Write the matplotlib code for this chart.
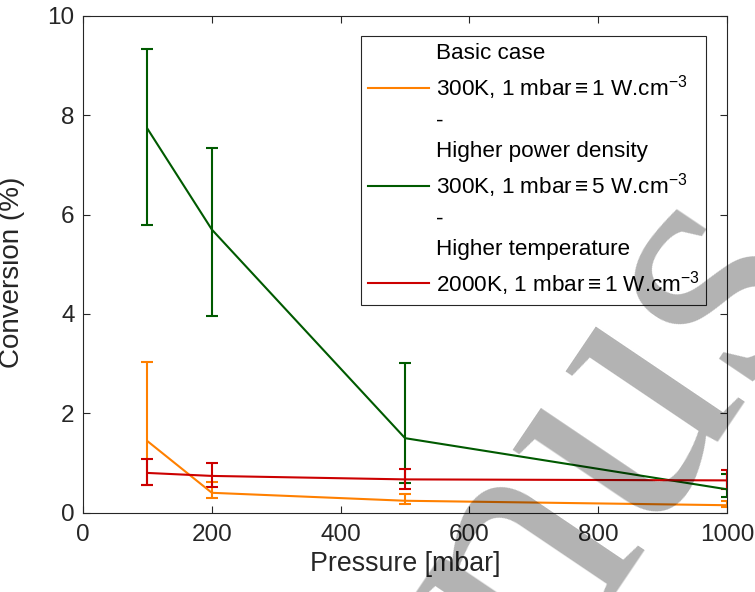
import matplotlib
matplotlib.use('Agg')
import matplotlib.pyplot as plt
from matplotlib.lines import Line2D

# pressure points (mbar)
pressure = [100, 200, 500, 1000]

# basic case 300K, 1 W/cm3
basic = [1.44, 0.40, 0.24, 0.15]
basic_lo = [0.56, 0.29, 0.17, 0.11]
basic_hi = [3.03, 0.62, 0.38, 0.24]

# higher power density 5 W/cm3
power = [7.73, 5.70, 1.50, 0.47]
power_lo = [5.80, 3.96, 0.60, 0.31]
power_hi = [9.33, 7.34, 3.01, 0.77]

# higher temperature 2000K
temp = [0.80, 0.74, 0.67, 0.65]
temp_lo = [0.56, 0.51, 0.48, 0.47]
temp_hi = [1.09, 1.01, 0.87, 0.86]

legend_labels = ['Basic case',
                 r'300K, 1 mbar$\equiv$1 W.cm$^{\mathregular{-3}}$',
                 '-',
                 'Higher power density',
                 r'300K, 1 mbar$\equiv$5 W.cm$^{\mathregular{-3}}$',
                 '-',
                 'Higher temperature',
                 r'2000K, 1 mbar$\equiv$1 W.cm$^{\mathregular{-3}}$']

plt.rcParams['font.family'] = ['Liberation Sans', 'DejaVu Sans']
plt.rcParams['mathtext.fontset'] = 'custom'
plt.rcParams['mathtext.rm'] = 'Liberation Sans'
plt.rcParams['mathtext.it'] = 'Liberation Sans'

c_basic = '#ff8000'
c_power = '#005a00'
c_temp = '#cc0000'
dark = '#262626'


def errs(vals, lo, hi):
    return [[v - l for v, l in zip(vals, lo)], [h - v for v, h in zip(vals, hi)]]


fig = plt.figure(figsize=(7.55, 5.92), dpi=100)
ax = fig.add_axes([0.110, 0.134, 0.853, 0.839])

ax.errorbar(pressure, basic, yerr=errs(basic, basic_lo, basic_hi), color=c_basic,
            lw=1.5, capsize=4.5, capthick=1.5)
ax.errorbar(pressure, power, yerr=errs(power, power_lo, power_hi), color=c_power,
            lw=1.5, capsize=4.5, capthick=1.5)
ax.errorbar(pressure, temp, yerr=errs(temp, temp_lo, temp_hi), color=c_temp,
            lw=1.5, capsize=4.5, capthick=1.5)

ax.set_xlim(0, 1000)
ax.set_ylim(0, 10)
ax.set_xticks([0, 200, 400, 600, 800, 1000])
ax.set_yticks([0, 2, 4, 6, 8, 10])
ax.tick_params(direction='in', length=5, width=0.8, colors=dark, labelsize=17.5,
               top=True, right=True, pad=8)
ax.tick_params(axis='y', pad=6)
for s in ax.spines.values():
    s.set_color(dark)
    s.set_linewidth(0.8)

ax.set_xlabel('Pressure [mbar]', fontsize=19.25, color=dark, labelpad=4)
ax.set_ylabel('Conversion (%)', fontsize=20, color=dark)
ax.yaxis.set_label_coords(-0.09, 0.484)

blank = Line2D([], [], color='none')
handles = [blank, Line2D([], [], color=c_basic, lw=1.5), blank, blank,
           Line2D([], [], color=c_power, lw=1.5), blank, blank,
           Line2D([], [], color=c_temp, lw=1.5)]
leg = ax.legend(handles, legend_labels, loc='upper right', bbox_to_anchor=(0.968, 0.959),
                borderaxespad=0, fontsize=16.2, fancybox=False, framealpha=1,
                edgecolor=dark, handlelength=2.7, handletextpad=0.3,
                labelspacing=0.4, borderpad=0.3)
leg.get_frame().set_linewidth(0.8)

# watermark
fig.text(612 / 755, 1 - 432 / 592, 'nus', rotation=56, fontsize=260,
         family='Liberation Serif', color='black', alpha=0.3,
         ha='center', va='center', zorder=10)

fig.savefig('out.png', dpi=100)
